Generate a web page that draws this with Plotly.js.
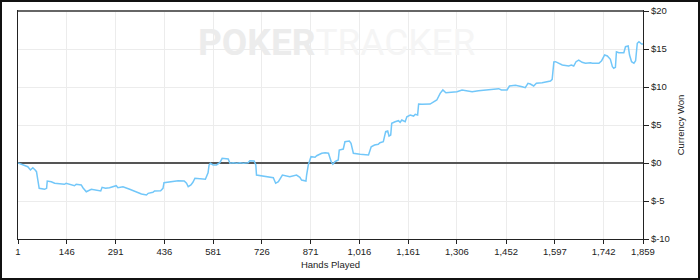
<!DOCTYPE html>
<html>
<head>
<meta charset="utf-8">
<script src="https://cdn.plot.ly/plotly-3.0.1.min.js"></script>
<style>
html,body{margin:0;padding:0;background:#fff;}
#wrap{position:relative;width:700px;height:280px;}
#chart{width:700px;height:280px;}
#frame{position:absolute;left:0;top:0;width:700px;height:280px;box-sizing:border-box;border:2px solid #111;pointer-events:none;}
</style>
</head>
<body>
<div id="wrap"><div id="chart"></div><div id="frame"></div></div>
<script>
const hands = [1,10,30,38,45,52,56,60,64,80,86,88,100,110,139,144,169,174,189,194,204,219,234,247,251,261,
273,293,298,313,333,353,368,383,388,402,407,425,432,435,457,477,495,502,507,515,521,527,
558,566,569,573,581,591,601,608,626,631,641,651,661,671,685,690,703,708,710,725,740,760,767,775,787,800,809,
829,839,844,857,859,864,872,884,889,904,914,924,932,937,943,953,956,968,973,986,991,998,1018,1043,1051,1061,1072,
1077,1087,1094,1100,1104,1109,1112,1122,1132,1137,1142,1152,1157,1167,1177,1182,1189,1192,1202,1226,1236,1246,1256,1264,1273,1291,1306,1321,1336,
1351,1370,1390,1410,1430,1438,1455,1462,1480,1500,1509,1517,1524,1534,1542,1559,1574,1584,1589,1592,1594,
1599,1607,1619,1638,1646,1653,1660,1668,1678,1688,1703,1708,1728,1736,1745,1753,1762,1768,1772,1777,1780,1787,1802,1807,1815,1819,1825,1832,1837,1842,1847,1855,1859];

const won = [0,-0.17,-0.49,-0.92,-0.62,-0.92,-1.14,-2.24,-3.33,-3.46,-3.33,-2.37,-2.46,-2.67,-2.80,-2.67,-2.99,-2.80,-2.89,-3.25,-3.78,-3.46,-3.55,-3.68,-3.20,-3.33,
-3.25,-2.99,-3.25,-3.12,-3.46,-3.78,-4.08,-4.21,-3.99,-3.86,-3.68,-3.64,-3.33,-2.59,-2.46,-2.33,-2.37,-2.67,-3.12,-2.89,-2.54,-2.01,
-2.14,-1.28,-0.26,-0.04,-0.26,-0.26,0.04,0.62,0.53,-0.04,0.02,-0.03,0.03,-0.02,0.04,0.30,0.26,-0.26,-1.58,-1.67,-1.80,-1.93,-2.67,-2.46,-1.58,-1.71,-1.80,
-1.58,-1.88,-2.24,-2.37,-1.58,-0.26,0.83,0.75,0.96,1.28,1.36,1.28,0.17,-0.17,0.17,0.39,1.71,1.84,2.80,2.89,2.59,1.28,1.14,1.05,2.14,2.37,2.46,
2.67,2.80,4.12,4.21,3.55,3.68,5.22,5.43,5.57,5.36,5.66,5.43,6.09,6.32,6.18,6.41,6.32,7.76,7.72,7.76,7.99,8.29,9.17,9.61,9.25,9.34,9.38,9.61,9.51,
9.38,9.51,9.61,9.70,9.78,9.61,9.61,10.13,10.22,10.04,9.91,10.49,10.39,10.13,10.49,10.57,10.70,10.79,11.01,12.24,13.29,
13.33,13.12,12.89,12.76,12.89,12.76,13.33,13.55,13.25,13.12,13.20,13.12,13.12,13.46,14.21,14.08,13.64,12.67,12.46,12.59,14.64,14.51,14.51,15.30,15.39,14.21,13.33,13.12,13.46,15.75,15.96,15.66,15.66];

const xTickVals = [1,146,291,436,581,726,871,1016,1161,1306,1452,1597,1742,1859];
const xTickText = ["1","146","291","436","581","726","871","1,016","1,161","1,306","1,452","1,597","1,742","1,859"];
const yTickVals = [-10,-5,0,5,10,15,20];
const yTickText = ["$-10","$-5","$0","$5","$10","$15","$20"];

const font = {family: '"Liberation Sans", Arial, sans-serif', size: 9.5, color: '#222'};

Plotly.newPlot('chart', [{
  x: hands, y: won, type: 'scatter', mode: 'lines',
  line: {color: '#72c7f9', width: 1.5},
  hoverinfo: 'skip'
}], {
  width: 700, height: 280,
  margin: {l: 18, r: 57, t: 11, b: 41, pad: 0},
  paper_bgcolor: '#fff', plot_bgcolor: '#fff',
  showlegend: false,
  font: font,
  xaxis: {
    range: [1, 1859], tickmode: 'array', tickvals: xTickVals, ticktext: xTickText,
    showgrid: true, gridcolor: '#ececec', gridwidth: 1,
    showline: true, linecolor: '#222', linewidth: 1, mirror: true,
    ticks: 'outside', ticklen: 4, tickcolor: '#222', tickfont: font,
    zeroline: false, automargin: false,
    title: {text: 'Hands Played', font: font, standoff: 4}
  },
  yaxis: {
    range: [-10, 20], side: 'right', tickmode: 'array', tickvals: yTickVals, ticktext: yTickText,
    showgrid: true, gridcolor: '#ececec', gridwidth: 1,
    showline: true, linecolor: '#222', linewidth: 1, mirror: true,
    ticks: 'outside', ticklen: 5, tickcolor: '#222', tickfont: font,
    zeroline: true, zerolinecolor: '#555', zerolinewidth: 2,
    automargin: false,
    title: {text: 'Currency Won', font: font, standoff: 8}
  },
  shapes: [{type: 'line', xref: 'paper', yref: 'paper', x0: 0, x1: 1, y0: 1, y1: 1,
    line: {color: '#666', width: 2}}],
  annotations: [{
    xref: 'paper', yref: 'paper', x: 0.285, y: 0.86, xanchor: 'left', yanchor: 'middle',
    text: '<b>POKER</b><span style="color:#f5f5f5">TRACKER</span>', showarrow: false,
    font: {family: 'Roboto, "Liberation Sans", sans-serif', size: 37, color: '#ececec'}
  }]
}, {staticPlot: true, displayModeBar: false});
</script>
</body>
</html>
